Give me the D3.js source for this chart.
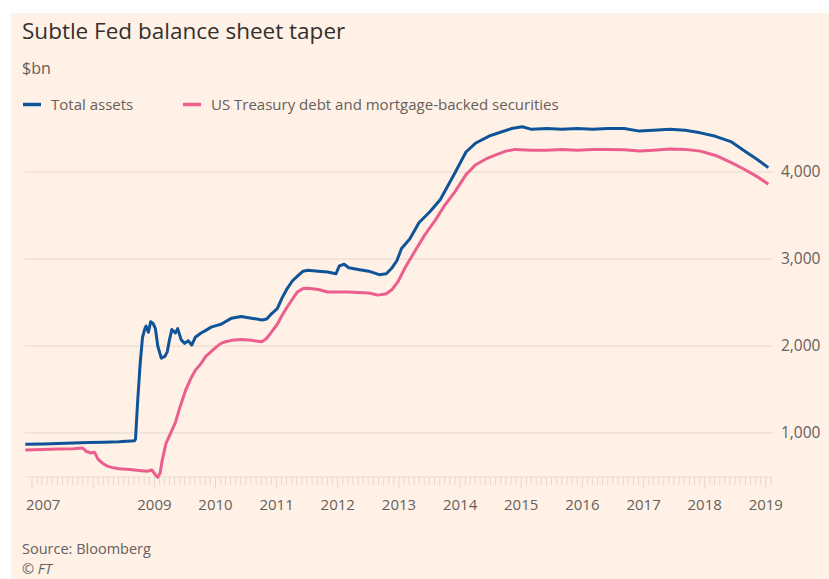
<!DOCTYPE html>
<html>
<head>
<meta charset="utf-8">
<style>
  body { margin: 0; background: #fff; }
  svg text { font-family: "Open Sans", "Noto Sans", sans-serif; }
</style>
</head>
<body>
<svg id="chart" width="829" height="579"></svg>
<script src="https://cdn.jsdelivr.net/npm/d3@7"></script>
<script>
// values, $bn
const totalDates = [
  "2006-11-22","2007-03-07","2007-06-06","2007-09-05","2007-12-05","2008-03-05","2008-06-04",
  "2008-09-03","2008-09-10","2008-09-24","2008-10-08","2008-10-22","2008-11-05","2008-11-12",
  "2008-11-26","2008-12-10","2008-12-24","2009-01-07","2009-01-21","2009-02-11","2009-03-04",
  "2009-03-18","2009-04-01","2009-04-15","2009-05-06","2009-05-20","2009-06-10","2009-07-01",
  "2009-07-22","2009-08-12","2009-09-02","2009-10-07","2009-11-04","2009-12-09","2010-02-03",
  "2010-04-07","2010-06-02","2010-08-04","2010-10-06","2010-11-03","2010-12-01","2011-01-05",
  "2011-02-02","2011-03-02","2011-04-06","2011-05-04","2011-06-08","2011-07-06","2011-09-07",
  "2011-11-02","2011-12-21","2012-01-11","2012-02-08","2012-03-07","2012-05-02","2012-07-04",
  "2012-09-05","2012-10-17","2012-11-21","2012-12-19","2013-01-16","2013-03-06","2013-05-01",
  "2013-07-03","2013-09-04","2013-12-04","2014-02-05","2014-04-02","2014-07-02","2014-11-05",
  "2015-01-07","2015-03-04","2015-06-03","2015-09-02","2015-12-02","2016-03-02","2016-06-01",
  "2016-09-07","2016-12-07","2017-03-01","2017-06-07","2017-09-06","2017-12-06","2018-03-07",
  "2018-06-06","2018-09-05","2018-11-07","2019-01-02","2019-01-16"
];
const totalAssets = [
  870, 875, 880, 885, 890, 895, 900,
  910, 930, 1400, 1800, 2100, 2200, 2230,
  2160, 2280, 2260, 2200, 2000, 1860, 1880,
  1930, 2070, 2190, 2150, 2200, 2070, 2030,
  2060, 2010, 2100, 2150, 2180, 2220, 2250,
  2320, 2340, 2320, 2300, 2310, 2370, 2430,
  2550, 2650, 2750, 2800, 2860, 2870, 2860,
  2850, 2830, 2920, 2940, 2900, 2880, 2860,
  2820, 2830, 2900, 2980, 3120, 3230, 3420,
  3540, 3680, 4000, 4230, 4330, 4420, 4500,
  4520, 4490, 4500, 4490, 4500, 4490, 4500,
  4500, 4470, 4480, 4490, 4480, 4450, 4410,
  4350, 4230, 4150, 4070, 4050
];

const secDates = [
  "2006-11-22","2007-03-07","2007-06-06","2007-09-05","2007-10-31","2007-11-21","2007-12-19",
  "2008-01-09","2008-01-30","2008-02-27","2008-03-26","2008-04-30","2008-06-04","2008-08-06",
  "2008-10-01","2008-11-19","2008-12-17","2009-01-07","2009-01-21","2009-02-04","2009-02-18",
  "2009-03-11","2009-04-08","2009-05-06","2009-06-03","2009-07-08","2009-08-05","2009-09-02",
  "2009-10-07","2009-11-04","2009-12-09","2010-01-06","2010-02-03","2010-03-03","2010-04-07",
  "2010-06-02","2010-08-04","2010-10-06","2010-11-03","2010-12-01","2011-01-05","2011-02-02",
  "2011-03-02","2011-04-06","2011-05-04","2011-06-08","2011-07-06","2011-09-07","2011-11-02",
  "2012-01-11","2012-03-07","2012-05-02","2012-07-04","2012-08-29","2012-10-17","2012-11-21",
  "2012-12-26","2013-02-06","2013-04-03","2013-06-05","2013-08-07","2013-10-02","2013-12-04",
  "2014-02-05","2014-04-02","2014-06-04","2014-08-06","2014-10-01","2014-11-26","2015-03-04",
  "2015-06-03","2015-09-02","2015-12-02","2016-03-02","2016-06-01","2016-09-07","2016-12-07",
  "2017-03-01","2017-06-07","2017-09-06","2017-12-06","2018-03-07","2018-06-06","2018-09-05",
  "2018-11-07","2019-01-02","2019-01-16"
];
const treasuryMbs = [
  805, 810, 815, 820, 828, 790, 770,
  780, 700, 650, 620, 600, 590, 580,
  570, 560, 575, 520, 490, 540, 700,
  880, 1000, 1120, 1300, 1500, 1620, 1720,
  1800, 1880, 1940, 1990, 2030, 2050, 2065,
  2075, 2065, 2050, 2090, 2160, 2250, 2350,
  2440, 2540, 2620, 2660, 2665, 2650, 2620,
  2620, 2620, 2615, 2610, 2585, 2600, 2650,
  2740, 2900, 3080, 3280, 3450, 3620, 3780,
  3970, 4080, 4150, 4200, 4240, 4260, 4250,
  4250, 4260, 4250, 4260, 4260, 4255, 4240,
  4250, 4265, 4260, 4240, 4190, 4110, 4020,
  3950, 3880, 3860
];

const yTicks = [1000, 2000, 3000, 4000];
const yearLabels = [2007, 2009, 2010, 2011, 2012, 2013, 2014, 2015, 2016, 2017, 2018, 2019];

const seriesNames = ["Total assets", "US Treasury debt and mortgage-backed securities"];
const seriesColors = ["#0f5499", "#eb5e8d"];

const parse = d3.timeParse("%Y-%m-%d");
const svg = d3.select("#chart");

svg.append("rect")
  .attr("x", 11).attr("y", 13)
  .attr("width", 818).attr("height", 566)
  .attr("fill", "#fff1e5");

const x = d3.scaleTime()
  .domain([new Date(2006, 10, 20), new Date(2019, 1, 1)])
  .range([25, 771]);
const y = d3.scaleLinear()
  .domain([483, 4000])
  .range([478, 172]);

// gridlines
svg.append("g")
  .selectAll("line")
  .data(yTicks)
  .join("line")
  .attr("x1", 25).attr("x2", 773)
  .attr("y1", d => y(d)).attr("y2", d => y(d))
  .attr("stroke", "#ebe0d6")
  .attr("stroke-width", 1.3);

// right-hand labels
svg.append("g")
  .selectAll("text")
  .data(yTicks)
  .join("text")
  .attr("x", 781)
  .attr("y", d => y(d))
  .attr("dy", "0.35em")
  .attr("font-size", 15.5)
  .attr("fill", "#66605c")
  .text(d => d3.format(",")(d));

// month ticks along the bottom
const months = d3.timeMonth.range(new Date(2007, 0, 1), new Date(2019, 1, 2));
svg.append("g")
  .selectAll("line")
  .data(months)
  .join("line")
  .attr("x1", d => x(d)).attr("x2", d => x(d))
  .attr("y1", 477)
  .attr("y2", d => d.getMonth() === 0 ? 489 : 485)
  .attr("stroke", "#e3d8ce")
  .attr("stroke-width", 1);
svg.append("line")
  .attr("x1", 25).attr("x2", 772)
  .attr("y1", 477).attr("y2", 477)
  .attr("stroke", "#e8ddd3");

svg.append("g")
  .selectAll("text")
  .data(yearLabels)
  .join("text")
  .attr("x", d => d === 2007 ? 26 : x(new Date(d, 0, 1)))
  .attr("y", 510)
  .attr("text-anchor", d => d === 2007 ? "start" : "middle")
  .attr("font-size", 15)
  .attr("fill", "#66605c")
  .text(d => d);

// lines
const line = d3.line()
  .x(d => x(d.date))
  .y(d => y(d.value));

const series = [
  totalDates.map((d, i) => ({ date: parse(d), value: totalAssets[i] })),
  secDates.map((d, i) => ({ date: parse(d), value: treasuryMbs[i] }))
];

svg.append("g")
  .selectAll("path")
  .data([series[1], series[0]])
  .join("path")
  .attr("d", line)
  .attr("fill", "none")
  .attr("stroke", (d, i) => i === 0 ? seriesColors[1] : seriesColors[0])
  .attr("stroke-width", 3)
  .attr("stroke-linejoin", "round");

// titles
svg.append("text")
  .attr("x", 22).attr("y", 39)
  .attr("font-size", 22.5)
  .attr("fill", "#33302e")
  .text("Subtle Fed balance sheet taper");
svg.append("text")
  .attr("x", 22).attr("y", 74)
  .attr("font-size", 16)
  .attr("fill", "#66605c")
  .text("$bn");

// legend
const legendX = [23, 183];
const legend = svg.append("g");
legend.selectAll("line")
  .data(seriesNames)
  .join("line")
  .attr("x1", (d, i) => legendX[i]).attr("x2", (d, i) => legendX[i] + 18)
  .attr("y1", 104.5).attr("y2", 104.5)
  .attr("stroke", (d, i) => seriesColors[i])
  .attr("stroke-width", 3.5);
legend.selectAll("text")
  .data(seriesNames)
  .join("text")
  .attr("x", (d, i) => legendX[i] + 28)
  .attr("y", 110)
  .attr("font-size", 15)
  .attr("fill", "#66605c")
  .text(d => d);

// source
svg.append("text")
  .attr("x", 22).attr("y", 554)
  .attr("font-size", 14.5)
  .attr("fill", "#66605c")
  .text("Source: Bloomberg");
svg.append("text")
  .attr("x", 22).attr("y", 574)
  .attr("font-size", 14.5)
  .attr("font-style", "italic")
  .attr("fill", "#66605c")
  .text("© FT");
</script>
</body>
</html>
